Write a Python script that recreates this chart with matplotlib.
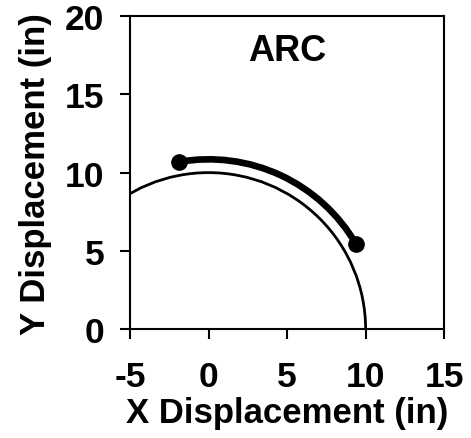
import numpy as np
import matplotlib
matplotlib.use("Agg")
import matplotlib.pyplot as plt
from matplotlib.patches import Arc

plt.rcParams['font.family'] = ['Liberation Sans', 'DejaVu Sans']
plt.rcParams['font.weight'] = 'bold'
plt.rcParams['axes.unicode_minus'] = False

# Reference circle (radius in inches, drawn from 0 deg counter-clockwise)
circle_radius = 10.0
circle_theta = [0.0, 180.0]

# Measured arc path: radius and start/end angles (deg)
path_radius = 10.85
path_theta = [30.0, 100.0]

x_ticks = [-5, 0, 5, 10, 15]
y_ticks = [0, 5, 10, 15, 20]
panel_title = "ARC"

fig = plt.figure(figsize=(4.71, 4.39), dpi=100)
ax = fig.add_axes([0.276, 0.248, 0.667, 0.713])

ax.add_patch(Arc((0, 0), 2 * circle_radius, 2 * circle_radius,
                 theta1=circle_theta[0], theta2=circle_theta[1],
                 color='black', lw=2.0))
ax.add_patch(Arc((0, 0), 2 * path_radius, 2 * path_radius,
                 theta1=path_theta[0], theta2=path_theta[1],
                 color='black', lw=4.8, capstyle='round'))

ends = np.radians(path_theta)
ax.plot(path_radius * np.cos(ends), path_radius * np.sin(ends), 'o',
        color='black', ms=11)

ax.text(5, 17.8, panel_title, ha='center', va='center', fontsize=26,
        fontweight='bold')

ax.set_xlim(x_ticks[0], x_ticks[-1])
ax.set_ylim(y_ticks[0], y_ticks[-1])
ax.set_xticks(x_ticks)
ax.set_yticks(y_ticks)
ax.tick_params(axis='both', direction='out', length=7.5, width=1.5,
               labelsize=25.5)
ax.tick_params(axis='x', pad=15)
ax.tick_params(axis='y', pad=11)
for s in ax.spines.values():
    s.set_linewidth(1.5)

ax.set_xlabel("X Displacement (in)", fontsize=25, fontweight='bold',
              labelpad=2)
ax.set_ylabel("Y Displacement (in)", fontsize=25, fontweight='bold',
              labelpad=9)

fig.savefig("out.png", dpi=100)
